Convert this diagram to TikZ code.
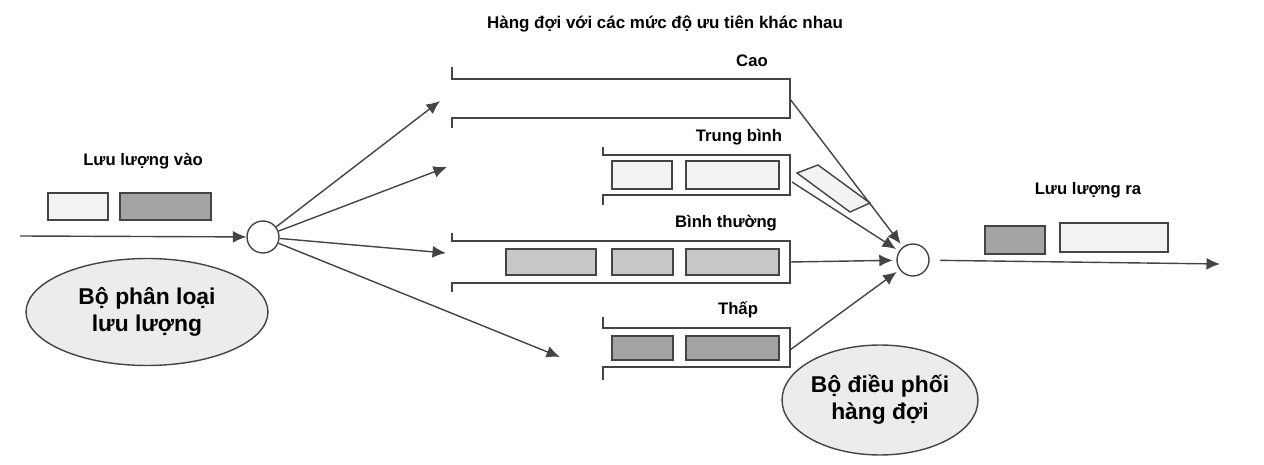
\documentclass[tikz,border=0pt]{standalone}
\usepackage{fontspec}
\setmainfont{Liberation Sans}
\usepackage{tikz}
\usetikzlibrary{positioning,arrows.meta,calc,shapes.geometric}
\definecolor{qline}{HTML}{444444}
\definecolor{pktlight}{HTML}{F3F3F3}
\definecolor{pktmid}{HTML}{C8C8C8}
\definecolor{pktdark}{HTML}{A4A4A4}
\definecolor{ellfill}{HTML}{ECECEC}

\begin{document}
\begin{tikzpicture}[x=0.02cm, y=-0.02cm,
    line width=0.8pt, draw=qline,
    arr/.style={qline, -{Latex[length=2.7mm, width=2.4mm]}},
    lbl/.style={font=\fontsize{9.5}{11}\selectfont\bfseries, inner sep=0pt},
    pkt/.style={draw=qline, line width=0.8pt},
    queue/.style={qline, line width=0.8pt},
    hub/.style={circle, draw=qline, fill=white, line width=0.8pt, inner sep=0pt},
    unit/.style={ellipse, draw=qline, fill=ellfill, line width=0.8pt, align=center,
      font=\fontsize{13}{15.5}\selectfont\bfseries, inner sep=0pt}]
    \useasboundingbox (0,0) rectangle (1264,465);
    % labels
    \node[lbl, font=\fontsize{9.65}{11}\selectfont\bfseries] (title) at (665,24) {Hàng đợi với các mức độ ưu tiên khác nhau};
    \node[lbl] (lvao) at (143,161) {Lưu lượng vào};
    \node[lbl] (lra) at (1088,190) {Lưu lượng ra};
    \node[lbl] (lcao) at (752,61) {Cao};
    \node[lbl] (ltb) at (739,137) {Trung bình};
    \node[lbl] (lbt) at (726,223) {Bình thường};
    \node[lbl] (lthap) at (738,310) {Thấp};
    % classifier and scheduler
    \node[unit, minimum width=4.84cm, minimum height=2.14cm] (classifier) at (147,312) {Bộ phân loại\\lưu lượng};
    \node[unit, minimum width=3.92cm, minimum height=2.2cm] (scheduler) at (880,400) {Bộ điều phối\\hàng đợi};
    \node[hub, minimum size=0.64cm] (cls) at (263,237) {};
    \node[hub, minimum size=0.64cm] (sch) at (913,260) {};
    % queues
    \draw[queue] (452,67) -- (452,79) -- (790,79) -- (790,118) -- (452,118) -- (452,128);
    \draw[queue] (603,147) -- (603,155) -- (790,155) -- (790,195) -- (603,195) -- (603,205);
    \draw[queue] (452,233) -- (452,241) -- (790,241) -- (790,283) -- (452,283) -- (452,292);
    \draw[queue] (603,317) -- (603,328) -- (790,328) -- (790,367) -- (603,367) -- (603,380);
    % packets
    \draw[pkt, fill=pktlight] (48,193) rectangle (108,220);
    \draw[pkt, fill=pktdark] (120,193) rectangle (211,220);
    \draw[pkt, fill=pktlight] (612,161) rectangle (672,189);
    \draw[pkt, fill=pktlight] (686,161) rectangle (779,189);
    \draw[pkt, fill=pktmid] (506,249) rectangle (596,275);
    \draw[pkt, fill=pktmid] (612,249) rectangle (673,275);
    \draw[pkt, fill=pktmid] (686,249) rectangle (779,275);
    \draw[pkt, fill=pktdark] (612,336) rectangle (673,360);
    \draw[pkt, fill=pktdark] (686,336) rectangle (779,360);
    \draw[pkt, fill=pktlight] (797,173) -- (818,165) -- (870,203) -- (850,212) -- cycle;
    \draw[pkt, fill=pktdark] (985,226) rectangle (1045,254);
    \draw[pkt, fill=pktlight] (1060,223) rectangle (1168,252);
    % connectors
    \coordinate (src) at (20,236);
    \coordinate (toh) at (440,101);
    \coordinate (tom) at (447,167);
    \coordinate (ton) at (446,253);
    \coordinate (tol) at (560,357);
    \coordinate (qh) at (790,99);
    \coordinate (qm) at (792,182);
    \coordinate (qn) at (790,262);
    \coordinate (ql) at (790,350);
    \coordinate (dst) at (1220,264);
    \draw[arr] (src) -- (cls);
    \foreach \t in {toh,tom,ton,tol} \draw[arr] (cls) -- (\t);
    \foreach \q in {qh,qm,qn,ql} \draw[arr, shorten >=2pt] (\q) -- (sch);
    \draw[arr, shorten <=6pt] (sch) -- (dst);
  \end{tikzpicture}
\end{document}
